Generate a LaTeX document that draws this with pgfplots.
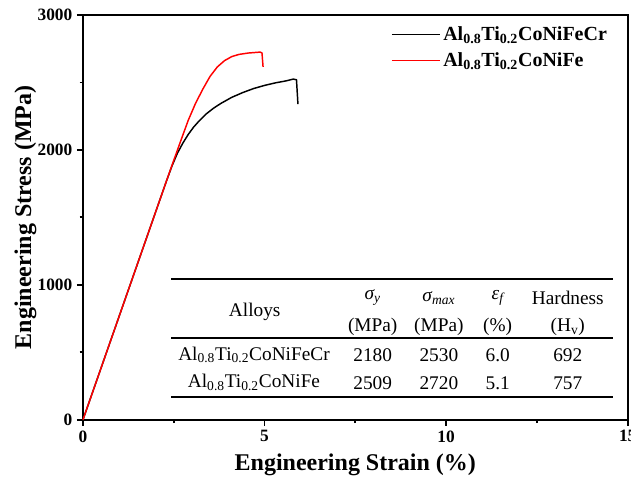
\documentclass[border=0pt]{standalone}
\usepackage{fontspec}
\setmainfont{Liberation Serif}
\usepackage{pgfplots}
\pgfplotsset{compat=1.18}

\newcommand{\tabfont}{\fontsize{14.5}{16}\selectfont}

\begin{document}
\begin{tikzpicture}
\begin{axis}[
  name=ax,
  width=408.75pt, height=303.75pt, scale only axis,
  xmin=0, xmax=15, ymin=0, ymax=3000,
  xtick={0,5,10,15}, ytick={0,1000,2000,3000},
  minor x tick num=1, minor y tick num=1,
  tick align=outside, tick pos=left,
  major tick length=4.5pt, minor tick length=2.5pt,
  every tick/.style={line width=1.4pt, black},
  axis line style={line width=1.6pt},
  /pgf/number format/assume math mode=true,
  /pgf/number format/1000 sep={},
  tick label style={font=\bfseries\fontsize{13}{14}\selectfont},
  xlabel={Engineering Strain (\%)},
  ylabel={Engineering Stress (MPa)},
  label style={font=\bfseries\fontsize{18}{20}\selectfont},
  xlabel style={yshift=-2pt},
  ylabel style={yshift=-6pt},
  legend cell align=left,
  legend style={at={(axis description cs:0.558,0.985)}, anchor=north west,
    draw=none, fill=none, font=\bfseries\fontsize{15}{17}\selectfont,
    row sep=3.5pt},
  legend image code/.code={\draw[#1] (0pt,0pt) -- (36pt,0pt);},
  clip=false,
]
\addplot[black, line width=1.1pt] coordinates {
 (0,0)(2.3,1770)(2.45,1880)(2.6,1975)(2.75,2050)(2.9,2115)(3.05,2170)
 (3.2,2215)(3.4,2268)(3.6,2310)(3.8,2345)(4.1,2390)(4.4,2425)(4.7,2455)
 (5.0,2478)(5.3,2497)(5.6,2512)(5.79,2525)(5.88,2520)(5.92,2340)
};
\addlegendentry{Al\textsubscript{0.8}Ti\textsubscript{0.2}CoNiFeCr}
\addplot[red, line width=1.1pt] coordinates {
 (0,0)(2.3,1770)(2.45,1885)(2.67,2050)(2.9,2220)(3.1,2345)(3.3,2450)
 (3.5,2545)(3.7,2615)(3.9,2662)(4.1,2692)(4.3,2708)(4.55,2718)
 (4.88,2725)(4.93,2718)(4.96,2615)
};
\addlegendentry{Al\textsubscript{0.8}Ti\textsubscript{0.2}CoNiFe}

% embedded table
\draw[line width=1.5pt] (axis cs:2.43,1040) -- (axis cs:14.6,1040);
\draw[line width=1.1pt] (axis cs:2.43,607) -- (axis cs:14.6,607);
\draw[line width=1.5pt] (axis cs:2.43,170) -- (axis cs:14.6,170);
\node[font=\tabfont] at (axis cs:4.73,802) {Alloys};
\node[font=\tabfont] at (axis cs:7.98,904) {\itshape σ\textsubscript{y}};
\node[font=\tabfont] at (axis cs:9.80,904) {\itshape σ\textsubscript{max}};
\node[font=\tabfont] at (axis cs:11.42,904) {\itshape ε\textsubscript{f}};
\node[font=\tabfont] at (axis cs:13.35,904) {Hardness};
\node[font=\tabfont] at (axis cs:7.98,689) {(MPa)};
\node[font=\tabfont] at (axis cs:9.80,689) {(MPa)};
\node[font=\tabfont] at (axis cs:11.42,689) {(\%)};
\node[font=\tabfont] at (axis cs:13.35,689) {(H\textsubscript{v})};
\node[font=\tabfont] at (axis cs:4.71,481) {Al\textsubscript{0.8}Ti\textsubscript{0.2}CoNiFeCr};
\node[font=\tabfont] at (axis cs:7.98,481) {2180};
\node[font=\tabfont] at (axis cs:9.80,481) {2530};
\node[font=\tabfont] at (axis cs:11.42,481) {6.0};
\node[font=\tabfont] at (axis cs:13.35,481) {692};
\node[font=\tabfont] at (axis cs:4.71,274) {Al\textsubscript{0.8}Ti\textsubscript{0.2}CoNiFe};
\node[font=\tabfont] at (axis cs:7.98,274) {2509};
\node[font=\tabfont] at (axis cs:9.80,274) {2720};
\node[font=\tabfont] at (axis cs:11.42,274) {5.1};
\node[font=\tabfont] at (axis cs:13.35,274) {757};
\end{axis}
\pgfresetboundingbox
\path[use as bounding box] ([shift={(-62.25pt,-43.5pt)}]ax.south west)
  rectangle ([shift={(2.5pt,11.25pt)}]ax.north east);
\end{tikzpicture}
\end{document}
